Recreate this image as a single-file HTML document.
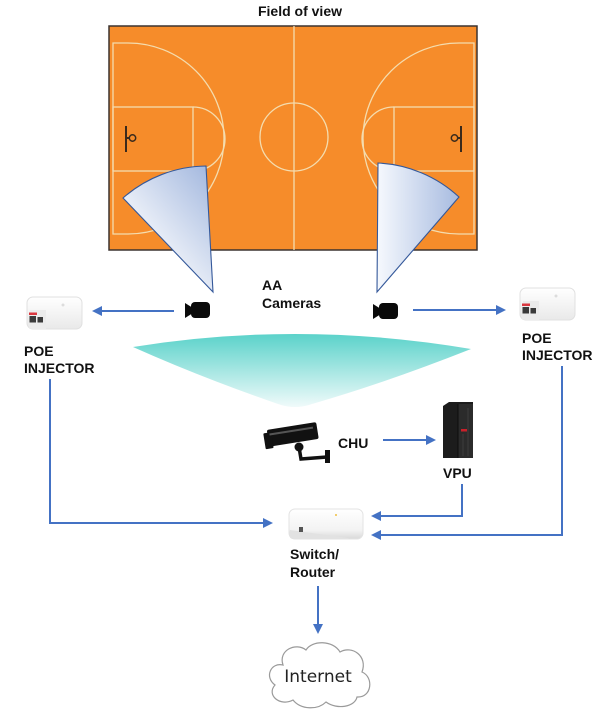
<!DOCTYPE html>
<html>
<head>
<meta charset="utf-8">
<style>
  html,body{margin:0;padding:0;background:#fff;}
  svg{display:block;}
  .lbl{font-family:"Liberation Sans",Arial,sans-serif;font-weight:bold;font-size:14px;fill:#111;}
</style>
</head>
<body>
<svg width="605" height="716" viewBox="0 0 605 716" xmlns="http://www.w3.org/2000/svg">
  <defs>
    <linearGradient id="wl" x1="123" y1="240" x2="206" y2="170" gradientUnits="userSpaceOnUse">
      <stop offset="0" stop-color="#ffffff"/>
      <stop offset="1" stop-color="#a7bbe0"/>
    </linearGradient>
    <linearGradient id="wr" x1="378" y1="0" x2="459" y2="0" gradientUnits="userSpaceOnUse">
      <stop offset="0" stop-color="#f5f8fd"/>
      <stop offset="1" stop-color="#a7bbe0"/>
    </linearGradient>
    <linearGradient id="teal" x1="0" y1="334" x2="0" y2="408" gradientUnits="userSpaceOnUse">
      <stop offset="0" stop-color="#5bd2ca"/>
      <stop offset="1" stop-color="#f2fbfb"/>
    </linearGradient>
    <linearGradient id="poe" x1="0" y1="0" x2="0" y2="1">
      <stop offset="0" stop-color="#ffffff"/>
      <stop offset="1" stop-color="#e9e9e9"/>
    </linearGradient>
    <linearGradient id="sw" x1="0" y1="0" x2="0" y2="1">
      <stop offset="0" stop-color="#ffffff"/>
      <stop offset="0.7" stop-color="#f3f3f3"/>
      <stop offset="1" stop-color="#d8d8d8"/>
    </linearGradient>
  </defs>

  <!-- Title -->
  <text class="lbl" x="300" y="16" text-anchor="middle">Field of view</text>

  <!-- Court -->
  <rect x="109" y="26" width="368" height="224" fill="#f68c2a" stroke="#3b3330" stroke-width="1.5"/>
  <g fill="none" stroke="#f4dcae" stroke-width="1.3">
    <line x1="294" y1="26" x2="294" y2="250"/>
    <circle cx="294" cy="137" r="34"/>
    <g id="half">
      <path d="M113,43 L128,43 A96,95.5 0 0 1 128,234 L113,234 Z"/>
      <rect x="113" y="107" width="80" height="64"/>
      <path d="M193,107 A32,32 0 0 1 193,171"/>
    </g>
    <g transform="translate(587,0) scale(-1,1)">
      <path d="M113,43 L128,43 A96,95.5 0 0 1 128,234 L113,234 Z"/>
      <rect x="113" y="107" width="80" height="64"/>
      <path d="M193,107 A32,32 0 0 1 193,171"/>
    </g>
  </g>
  <!-- baskets -->
  <g stroke="#3a2a1c" stroke-width="2" fill="none">
    <line x1="126" y1="126" x2="126" y2="152"/>
    <line x1="126" y1="138" x2="129" y2="138"/>
    <circle cx="132.5" cy="138" r="3.2" stroke-width="1.5"/>
    <line x1="461" y1="126" x2="461" y2="152"/>
    <line x1="461" y1="138" x2="458" y2="138"/>
    <circle cx="454.5" cy="138" r="3.2" stroke-width="1.5"/>
  </g>

  <!-- FOV wedges -->
  <path d="M213,292 L123,198 A128,128 0 0 1 206,166 Z" fill="url(#wl)" stroke="#34589a" stroke-width="1.1"/>
  <path d="M377,292 L378,163 A128,128 0 0 1 459,197 Z" fill="url(#wr)" stroke="#34589a" stroke-width="1.1"/>

  <!-- AA cameras -->
  <g fill="#0a0a0a">
    <polygon points="185,303 193,308 193,313 185,318"/>
    <rect x="191" y="302" width="19" height="16" rx="4"/>
    <polygon points="373,304 381,309 381,314 373,319"/>
    <rect x="379" y="303" width="19" height="16" rx="4"/>
  </g>
  <text class="lbl" x="262" y="290">AA</text>
  <text class="lbl" x="262" y="308">Cameras</text>

  <!-- POE injectors -->
  <g id="poeL">
    <rect x="27" y="297" width="55" height="32" rx="6" fill="url(#poe)" stroke="#e0e0e0" stroke-width="1"/>
    <path d="M30,310 L46,310 L46,329 L33,329 Q28,329 28,324 Z" fill="#ebebeb"/>
    <rect x="29" y="312.5" width="8" height="2.5" fill="#d9363e"/>
    <rect x="29.5" y="316" width="6.5" height="6.5" fill="#3a3a3a"/>
    <rect x="37.5" y="317" width="5.5" height="5.5" fill="#3a3a3a"/>
    <circle cx="63" cy="305" r="1.5" fill="#dcdcdc"/>
  </g>
  <g transform="translate(493,-9)">
    <rect x="27" y="297" width="55" height="32" rx="6" fill="url(#poe)" stroke="#e0e0e0" stroke-width="1"/>
    <path d="M30,310 L46,310 L46,329 L33,329 Q28,329 28,324 Z" fill="#ebebeb"/>
    <rect x="29" y="312.5" width="8" height="2.5" fill="#d9363e"/>
    <rect x="29.5" y="316" width="6.5" height="6.5" fill="#3a3a3a"/>
    <rect x="37.5" y="317" width="5.5" height="5.5" fill="#3a3a3a"/>
    <circle cx="63" cy="305" r="1.5" fill="#dcdcdc"/>
  </g>
  <text class="lbl" x="24" y="356">POE</text>
  <text class="lbl" x="24" y="373">INJECTOR</text>
  <text class="lbl" x="522" y="343">POE</text>
  <text class="lbl" x="522" y="360">INJECTOR</text>

  <!-- Teal coverage -->
  <path d="M133,347 Q300,320 471,349 Q385,383 312,404 Q295,410 278,404 Q200,377 133,347 Z" fill="url(#teal)"/>

  <!-- CHU camera -->
  <g fill="#111">
    <g transform="rotate(-9 292 436)">
      <rect x="268" y="426" width="50" height="17" rx="2"/>
      <rect x="264" y="429" width="8" height="16" rx="1"/>
      <rect x="270" y="430" width="44" height="2" fill="#555"/>
    </g>
    <circle cx="299" cy="447" r="4.5"/>
    <path d="M299,447 L301,459 L327,457" fill="none" stroke="#111" stroke-width="3.5"/>
    <rect x="325" y="450" width="5" height="13"/>
  </g>
  <text class="lbl" x="338" y="448">CHU</text>

  <!-- VPU tower -->
  <g>
    <polygon points="443,406 449,402 473,402 473,458 443,458" fill="#1c1c1c"/>
    <rect x="458" y="404" width="15" height="54" fill="#2b2b2b"/>
    <line x1="458" y1="404" x2="458" y2="458" stroke="#0c0c0c" stroke-width="1"/>
    <line x1="468" y1="408" x2="468" y2="456" stroke="#3d3d3d" stroke-width="1"/>
    <line x1="463" y1="434" x2="463" y2="456" stroke="#3d3d3d" stroke-width="1"/>
    <rect x="461" y="429" width="6" height="2.5" fill="#c8202a"/>
  </g>
  <text class="lbl" x="443" y="478">VPU</text>

  <!-- Switch -->
  <g>
    <rect x="289" y="509" width="74" height="30" rx="6" fill="url(#sw)" stroke="#e3e3e3" stroke-width="1"/>
    <path d="M290,530 L348,538 L350,539 L294,539 Q289,539 289,534 Z" fill="#e2e2e2"/>
    <rect x="299" y="527" width="4" height="5" fill="#555"/>
    <circle cx="336" cy="515" r="1" fill="#f0c040"/>
  </g>
  <text class="lbl" x="290" y="559">Switch/</text>
  <text class="lbl" x="290" y="577">Router</text>

  <!-- Connectors -->
  <g fill="none" stroke="#4472c4" stroke-width="2">
    <line x1="174" y1="311" x2="101" y2="311"/>
    <line x1="413" y1="310" x2="497" y2="310"/>
    <line x1="383" y1="440" x2="427" y2="440"/>
    <polyline points="50,379 50,523 264,523"/>
    <polyline points="462,484 462,516 380,516"/>
    <polyline points="562,366 562,535 380,535"/>
    <line x1="318" y1="586" x2="318" y2="625"/>
  </g>
  <g fill="#4472c4">
    <polygon points="92,311 102,306 102,316"/>
    <polygon points="506,310 496,305 496,315"/>
    <polygon points="436,440 426,435 426,445"/>
    <polygon points="273,523 263,518 263,528"/>
    <polygon points="371,516 381,511 381,521"/>
    <polygon points="371,535 381,530 381,540"/>
    <polygon points="318,634 313,624 323,624"/>
  </g>

  <!-- Internet cloud -->
  <path d="M283,665 C271,662 264,677 275,685 C266,695 280,707 293,700 C301,710 318,710 326,702 C337,710 355,707 357,697 C372,698 374,677 362,672 C368,656 352,645 340,652 C333,640 312,640 306,650 C296,642 278,650 283,665 Z" fill="#fff" stroke="#9a9a9a" stroke-width="1.2"/>
  <text x="318" y="682" text-anchor="middle" font-family="'DejaVu Sans','Liberation Sans',sans-serif" font-size="17" fill="#222">Internet</text>
</svg>
</body>
</html>
